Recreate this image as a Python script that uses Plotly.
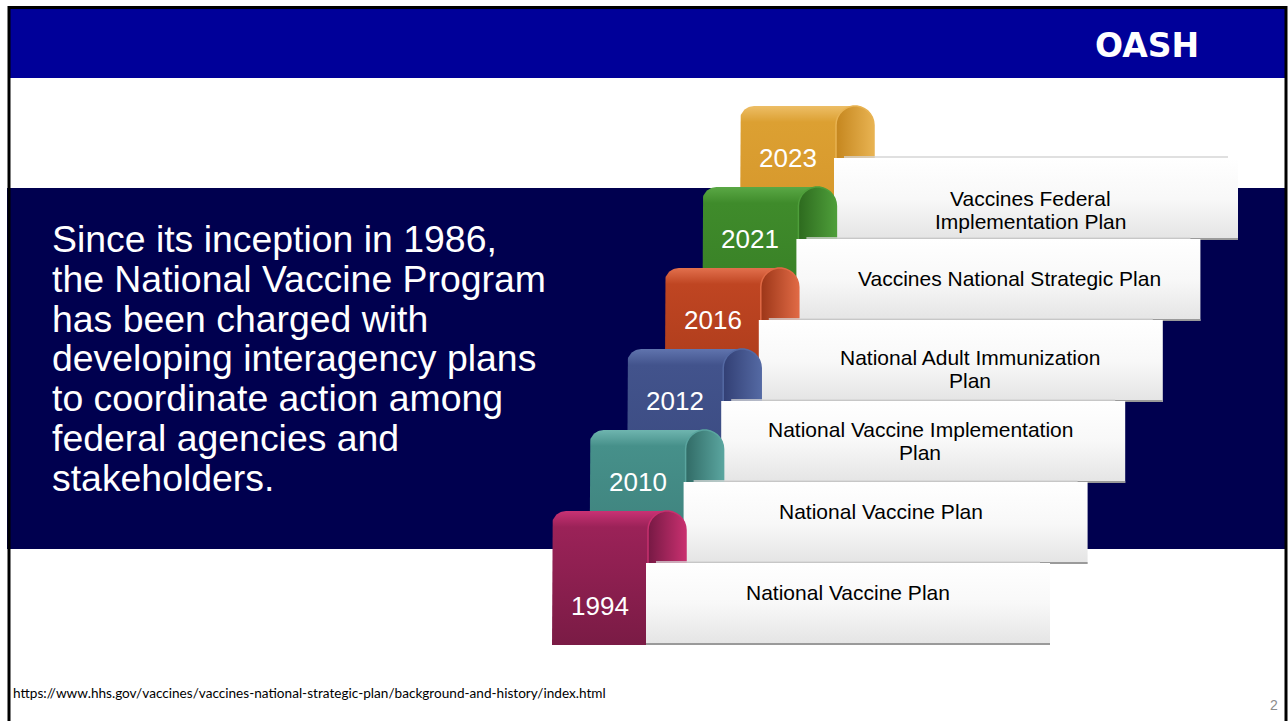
import numpy as np
import plotly.graph_objects as go

# ---------------- data ----------------
years = ["1994", "2010", "2012", "2016", "2021", "2023"]
plans = [
    "National Vaccine Plan",
    "National Vaccine Plan",
    "National Vaccine Implementation\nPlan",
    "National Adult Immunization\nPlan",
    "Vaccines National Strategic Plan",
    "Vaccines Federal\nImplementation Plan",
]
intro_lines = [
    "Since its inception in 1986,",
    "the National Vaccine Program",
    "has been charged with",
    "developing interagency plans",
    "to coordinate action among",
    "federal agencies and",
    "stakeholders.",
]
source_url = "https://www.hhs.gov/vaccines/vaccines-national-strategic-plan/background-and-history/index.html"
page_number = "2"
logo_text = "OASH"

# ---------------- styles ----------------
ribbon_colors = [  # top, mid, bottom, curl dark, curl light
    ("#C93274", "#9B2258", "#7A1B45", "#761944", "#C8306F"),
    ("#6FB5AF", "#46908A", "#3D7F7A", "#316B66", "#5AA59F"),
    ("#6074AE", "#42538C", "#3A4A80", "#323F74", "#5469A3"),
    ("#E2704D", "#BF4522", "#A83A1A", "#9C3618", "#E06A45"),
    ("#5AA845", "#3F8B2B", "#377D25", "#2D6A1E", "#4E9E3A"),
    ("#EDBE66", "#DCA032", "#D4952A", "#C5861E", "#E8B352"),
]
W, H = 1288, 721
STEP_X0, STEP_Y0 = 552, 511
STEP_DX, STEP_DY = 37.6, -81
RIB_W, RIB_H = 134, 134
CURL_R = 19
CORNER_R = 14
BOX_DX, BOX_W, BOX_DY = 94, 404, 52
label_dy = [29, 29, 39.5, 49, 39, 51.5]
label_dx = [202, 197, 199, 211, 213, 196]
FONT = "Liberation Sans, Arial, sans-serif"


def arc(cx, cy, r, a0, a1, n=16):
    a = np.radians(np.linspace(a0, a1, n))
    return list(cx + r * np.cos(a)), list(cy - r * np.sin(a))


fig = go.Figure()
shapes = []
annotations = []

# background pieces
shapes.append(dict(type="rect", x0=8, x1=1286, y0=6, y1=78, fillcolor="#000099", line_width=0, layer="below"))
shapes.append(dict(type="rect", x0=7, x1=1286, y0=188, y1=549, fillcolor="#00004F", line_width=0, layer="below"))
# slide border
shapes.append(dict(type="line", x0=9, x1=9, y0=6, y1=H, line=dict(color="black", width=3)))
shapes.append(dict(type="line", x0=8, x1=1287, y0=7.5, y1=7.5, line=dict(color="black", width=3)))
shapes.append(dict(type="line", x0=1286, x1=1286, y0=6, y1=H, line=dict(color="black", width=3)))

for i in reversed(range(len(years))):
    L = STEP_X0 + STEP_DX * i
    T = STEP_Y0 + STEP_DY * i
    R = L + RIB_W
    B = T + RIB_H
    bx0, bx1 = L + BOX_DX, L + BOX_DX + BOX_W
    by0, by1 = T + BOX_DY, T + RIB_H
    ctop, cmid, cbot, cdark, clight = ribbon_colors[i]

    # ribbon body
    xs, ys = [L, L], [B, T + CORNER_R]
    ax, ay = arc(L + CORNER_R, T + CORNER_R, CORNER_R, 180, 90)
    xs += ax; ys += ay
    ax, ay = arc(R - CURL_R, T + CURL_R, CURL_R, 90, 0)
    xs += ax; ys += ay
    xs += [R, L]; ys += [B, B]
    fig.add_trace(go.Scatter(
        x=xs, y=ys, fill="toself", mode="lines", line=dict(width=0, color=cmid),
        fillcolor=cmid,
        fillgradient=dict(type="vertical", start=T, stop=B,
                          colorscale=[[0, ctop], [0.12, cmid], [1, cbot]]),
        hoverinfo="skip", showlegend=False))

    # curl
    ax, ay = arc(R - CURL_R, T + CURL_R, CURL_R, 180, 0)
    xs = ax + [R, R - 2 * CURL_R, R - 2 * CURL_R]
    ys = ay + [by0 + 4, by0 + 4, T + CURL_R]
    fig.add_trace(go.Scatter(
        x=xs, y=ys, fill="toself", mode="lines", line=dict(width=1.5, color=clight),
        fillcolor=cdark,
        fillgradient=dict(type="horizontal", start=R - 2 * CURL_R, stop=R,
                          colorscale=[[0, cdark], [1, clight]]),
        hoverinfo="skip", showlegend=False))

    # white box with soft gradient
    fig.add_trace(go.Scatter(
        x=[bx0, bx1, bx1, bx0, bx0], y=[by0, by0, by1, by1, by0],
        fill="toself", mode="lines", line=dict(width=0, color="white"),
        fillcolor="#F4F4F4",
        fillgradient=dict(type="vertical", start=by0, stop=by1,
                          colorscale=[[0, "#FFFFFF"], [0.5, "#F8F8F8"], [1, "#E4E4E4"]]),
        hoverinfo="skip", showlegend=False))
    # shadow lines on box edges
    fig.add_trace(go.Scatter(x=[bx0, bx1], y=[by1 - 1, by1 - 1], mode="lines",
                             line=dict(color="#9A9A9A", width=2),
                             hoverinfo="skip", showlegend=False))
    fig.add_trace(go.Scatter(x=[bx0 + 10, bx1 - 10], y=[by0 - 1, by0 - 1], mode="lines",
                             line=dict(color="#D6D6D6", width=1.5),
                             hoverinfo="skip", showlegend=False))

    # year label
    ydy = 95 if i == 0 else 52
    annotations.append(dict(x=L + 48, y=T + ydy, text=years[i], showarrow=False,
                            font=dict(family=FONT, size=26, color="white"),
                            xanchor="center", yanchor="middle"))
    # plan label
    lines = plans[i].split("\n")
    cy = by0 + label_dy[i]
    n = len(lines)
    for k, ln in enumerate(lines):
        annotations.append(dict(x=bx0 + label_dx[i], y=cy + (k - (n - 1) / 2) * 23, text=ln,
                                showarrow=False, font=dict(family=FONT, size=21, color="black"),
                                xanchor="center", yanchor="middle"))

# intro text
for k, ln in enumerate(intro_lines):
    annotations.append(dict(x=50, y=239 + 39.8 * k, text=ln, showarrow=False,
                            font=dict(family=FONT, size=37.4, color="white"),
                            xanchor="left", yanchor="middle"))

# logo, footer, page number
annotations.append(dict(x=1147, y=45, text=logo_text, showarrow=False,
                        font=dict(family="DejaVu Sans, sans-serif", size=33, color="white", weight="bold"),
                        xanchor="center", yanchor="middle"))
annotations.append(dict(x=11, y=693, text=source_url, showarrow=False,
                        font=dict(family="Lato, Open Sans, sans-serif", size=13.6, color="black"),
                        xanchor="left", yanchor="middle"))
annotations.append(dict(x=1274, y=705, text=page_number, showarrow=False,
                        font=dict(family=FONT, size=14, color="#8C8C8C"),
                        xanchor="center", yanchor="middle"))

fig.update_layout(
    width=W, height=H, margin=dict(l=0, r=0, t=0, b=0),
    paper_bgcolor="white", plot_bgcolor="white",
    xaxis=dict(range=[0, W], visible=False, fixedrange=True),
    yaxis=dict(range=[H, 0], visible=False, fixedrange=True),
    shapes=shapes, annotations=annotations, showlegend=False,
)
fig.write_html("out.html", config={"displayModeBar": False},
               post_script="document.body.style.margin='0px';document.body.style.overflow='hidden';")
